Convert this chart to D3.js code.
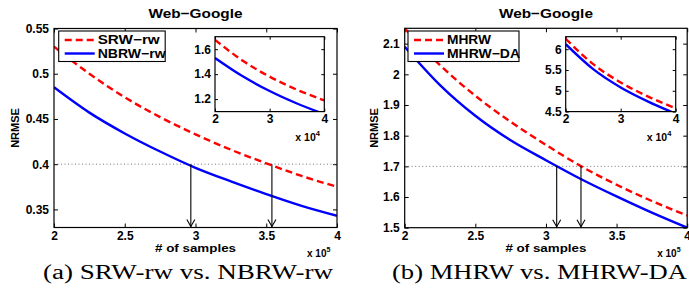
<!DOCTYPE html>
<html>
<head>
<meta charset="utf-8">
<script src="https://cdn.jsdelivr.net/npm/d3@7"></script>
<style>
  body { margin: 0; background: #fff; }
  text { font-family: "Liberation Sans", Arial, sans-serif; font-weight: bold; }
  .caption { font-family: "Liberation Serif", "Times New Roman", serif; font-weight: normal; }
</style>
</head>
<body>
<div id="chart"></div>
<script>
let chart_width = 689;
let chart_height = 291;

// data (x in units of 10^5 samples, inset x in 10^4)
let samples = [2, 2.25, 2.5, 2.75, 3, 3.25, 3.5, 3.75, 4];
let srw_rw = [0.530, 0.500, 0.474, 0.452, 0.433, 0.416, 0.401, 0.387, 0.375];
let nbrw_rw = [0.485, 0.457, 0.434, 0.414, 0.396, 0.381, 0.367, 0.354, 0.343];
let mhrw = [2.15, 2.03, 1.93, 1.845, 1.77, 1.70, 1.64, 1.587, 1.54];
let mhrw_da = [2.09, 1.965, 1.865, 1.785, 1.72, 1.658, 1.602, 1.549, 1.50];

let inset_samples = [2, 2.5, 3, 3.5, 4];
let srw_rw_inset = [1.675, 1.51, 1.38, 1.275, 1.19];
let nbrw_rw_inset = [1.53, 1.385, 1.265, 1.165, 1.08];
let mhrw_inset = [6.25, 5.64, 5.2, 4.86, 4.58];
let mhrw_da_inset = [6.12, 5.52, 5.08, 4.74, 4.45];

// tick labels
let x_ticks = ["2", "2.5", "3", "3.5", "4"];
let inset_x_ticks = ["2", "3", "4"];
let a_y_ticks = ["0.35", "0.4", "0.45", "0.5", "0.55"];
let b_y_ticks = ["1.5", "1.6", "1.7", "1.8", "1.9", "2", "2.1"];
let a_inset_y_ticks = ["1.2", "1.4", "1.6"];
let b_inset_y_ticks = ["4.5", "5", "5.5", "6"];

// the NRMSE level the arrows drop from, and where they hit the x axis
let a_level = 0.4;
let a_arrows = [2.967, 3.54];
let b_level = 1.7;
let b_arrows = [3.076, 3.248];

let svg = d3
  .select("#chart")
  .append("svg")
  .attr("width", chart_width)
  .attr("height", chart_height);

let clip_id = 0;

function draw_axes(g, x, y, xt, yt, tick_len, font_size, pad) {
  let x0 = x.range()[0], x1 = x.range()[1];
  let y0 = y.range()[0], y1 = y.range()[1];

  // white background under the plot
  g.append("rect")
    .attr("x", x0).attr("y", y1)
    .attr("width", x1 - x0).attr("height", y0 - y1)
    .attr("fill", "#fff");

  let xv = xt.map(Number);
  let yv = yt.map(Number);

  let bottom = g.append("g")
    .attr("transform", "translate(0," + y0 + ")")
    .call(d3.axisBottom(x).tickValues(xv).tickSize(-tick_len).tickPadding(pad)
      .tickFormat(function (d, i) { return xt[i]; }));
  let top = g.append("g")
    .attr("transform", "translate(0," + y1 + ")")
    .call(d3.axisTop(x).tickValues(xv).tickSize(-tick_len).tickFormat(""));
  let left = g.append("g")
    .attr("transform", "translate(" + x0 + ",0)")
    .call(d3.axisLeft(y).tickValues(yv).tickSize(-tick_len).tickPadding(pad + 1)
      .tickFormat(function (d, i) { return yt[i]; }));
  let right = g.append("g")
    .attr("transform", "translate(" + x1 + ",0)")
    .call(d3.axisRight(y).tickValues(yv).tickSize(-tick_len).tickFormat(""));

  [bottom, top, left, right].forEach(function (a) {
    a.select(".domain").remove();
    a.selectAll("line").attr("stroke", "#000").attr("stroke-width", 1);
    a.selectAll("text")
      .attr("fill", "#000")
      .style("font-size", font_size + "px")
      .style("font-family", "Liberation Sans, Arial, sans-serif")
      .style("font-weight", "bold");
  });
}

function draw_box(g, x, y) {
  let x0 = x.range()[0], x1 = x.range()[1];
  let y0 = y.range()[0], y1 = y.range()[1];
  g.append("rect")
    .attr("x", x0).attr("y", y1)
    .attr("width", x1 - x0).attr("height", y0 - y1)
    .attr("fill", "none")
    .attr("stroke", "#000")
    .attr("stroke-width", 1.2);
}

function draw_series(g, x, y, xs, vals, dashed) {
  clip_id++;
  let x0 = x.range()[0], x1 = x.range()[1];
  let y0 = y.range()[0], y1 = y.range()[1];
  g.append("clipPath").attr("id", "clip" + clip_id)
    .append("rect")
    .attr("x", x0).attr("y", y1)
    .attr("width", x1 - x0).attr("height", y0 - y1);

  let line = d3.line()
    .x(function (d, i) { return x(xs[i]); })
    .y(function (d) { return y(d); })
    .curve(d3.curveMonotoneX);

  g.append("path")
    .attr("clip-path", "url(#clip" + clip_id + ")")
    .attr("d", line(vals))
    .attr("fill", "none")
    .attr("stroke", dashed ? "#ff0000" : "#0000ff")
    .attr("stroke-width", 2.4)
    .attr("stroke-dasharray", dashed ? "7,4" : null);
}

function draw_panel(p) {
  let g = svg.append("g");

  let x = d3.scaleLinear().domain([2, 4]).range([p.left, p.right]);
  let y = d3.scaleLinear().domain(p.y_domain).range([p.bottom, p.top]);

  draw_axes(g, x, y, x_ticks, p.y_ticks, 4, 12, 4);

  // dotted reference line
  g.append("line")
    .attr("x1", x.range()[0]).attr("x2", x.range()[1])
    .attr("y1", y(p.level)).attr("y2", y(p.level))
    .attr("stroke", "#777")
    .attr("stroke-width", 1)
    .attr("stroke-dasharray", "1,2.5");

  draw_series(g, x, y, samples, p.red, true);
  draw_series(g, x, y, samples, p.blue, false);

  // arrows from the reference line down to the x axis
  p.arrows.forEach(function (a) {
    let ax = x(a);
    let ay = y.range()[0];
    g.append("line")
      .attr("x1", ax).attr("x2", ax)
      .attr("y1", y(p.level)).attr("y2", ay)
      .attr("stroke", "#000").attr("stroke-width", 1.1);
    g.append("path")
      .attr("d", "M" + (ax - 4) + "," + (ay - 8) + "L" + ax + "," + (ay - 1) + "L" + (ax + 4) + "," + (ay - 8))
      .attr("fill", "none").attr("stroke", "#000").attr("stroke-width", 1.1);
  });

  draw_box(g, x, y);

  // legend
  let lg = g.append("g");
  lg.append("rect")
    .attr("x", p.legend_x).attr("y", 31)
    .attr("width", p.legend_w).attr("height", 30.5)
    .attr("fill", "#fff").attr("stroke", "#000").attr("stroke-width", 1.1);
  p.names.forEach(function (name, i) {
    let ly = 40 + i * 13.5;
    lg.append("line")
      .attr("x1", p.legend_x + 6).attr("x2", p.legend_x + 36)
      .attr("y1", ly).attr("y2", ly)
      .attr("stroke", i == 0 ? "#ff0000" : "#0000ff")
      .attr("stroke-width", 2.4)
      .attr("stroke-dasharray", i == 0 ? "7,4" : null);
    lg.append("text")
      .attr("x", p.legend_x + 39).attr("y", ly + 4.3)
      .attr("textLength", p.name_w[i])
      .attr("lengthAdjust", "spacingAndGlyphs")
      .style("font-size", "12.5px")
      .text(name);
  });

  // inset
  let ix = d3.scaleLinear().domain([2, 4]).range([p.inset_left, p.inset_right]);
  let iy = d3.scaleLinear().domain(p.inset_domain).range([111.6, 36.7]);
  draw_axes(g, ix, iy, inset_x_ticks, p.inset_ticks, 3, 12, 3);
  draw_series(g, ix, iy, inset_samples, p.inset_red, true);
  draw_series(g, ix, iy, inset_samples, p.inset_blue, false);
  draw_box(g, ix, iy);

  let ie = g.append("text")
    .attr("x", p.inset_right - 29).attr("y", 140.5)
    .style("font-size", "10.5px");
  ie.append("tspan").text("x 10");
  ie.append("tspan").attr("dy", -5).style("font-size", "7.5px").text("4");

  // titles and labels
  let cx = (p.left + p.right) / 2;
  g.append("text")
    .attr("x", cx).attr("y", 18)
    .attr("text-anchor", "middle")
    .attr("textLength", 94)
    .attr("lengthAdjust", "spacingAndGlyphs")
    .style("font-size", "13.5px")
    .text("Web\u2212Google");

  g.append("text")
    .attr("transform", "translate(" + p.ylabel_x + "," + ((p.top + p.bottom) / 2) + ") rotate(-90)")
    .attr("text-anchor", "middle")
    .style("font-size", "11px")
    .text("NRMSE");

  g.append("text")
    .attr("x", cx).attr("y", 252)
    .attr("text-anchor", "middle")
    .attr("textLength", 81)
    .attr("lengthAdjust", "spacingAndGlyphs")
    .style("font-size", "11px")
    .text("# of samples");

  let me = g.append("text")
    .attr("x", p.right - 30).attr("y", 257)
    .style("font-size", "10px");
  me.append("tspan").text("x 10");
  me.append("tspan").attr("dy", -5).style("font-size", "7px").text("5");

  g.append("text")
    .attr("class", "caption")
    .attr("x", p.caption_x).attr("y", 279)
    .attr("textLength", p.caption_w)
    .attr("lengthAdjust", "spacingAndGlyphs")
    .style("font-size", "20px")
    .text(p.caption);
}

draw_panel({
  left: 54, right: 337, top: 28.5, bottom: 227.5,
  y_domain: [0.33, 0.55], y_ticks: a_y_ticks,
  red: srw_rw, blue: nbrw_rw,
  level: a_level, arrows: a_arrows,
  names: ["SRW\u2212rw", "NBRW\u2212rw"], name_w: [62, 68],
  legend_x: 58.7, legend_w: 106.5,
  inset_left: 215, inset_right: 324.3, inset_domain: [1.1, 1.7],
  inset_ticks: a_inset_y_ticks, inset_red: srw_rw_inset, inset_blue: nbrw_rw_inset,
  ylabel_x: 19,
  caption: "(a) SRW-rw vs. NBRW-rw", caption_x: 43, caption_w: 290
});

draw_panel({
  left: 404.7, right: 687.2, top: 28.3, bottom: 227.7,
  y_domain: [1.5, 2.15], y_ticks: b_y_ticks,
  red: mhrw, blue: mhrw_da,
  level: b_level, arrows: b_arrows,
  names: ["MHRW", "MHRW\u2212DA"], name_w: [44, 73],
  legend_x: 408, legend_w: 111,
  inset_left: 565.7, inset_right: 675.7, inset_domain: [4.5, 6.3],
  inset_ticks: b_inset_y_ticks, inset_red: mhrw_inset, inset_blue: mhrw_da_inset,
  ylabel_x: 378,
  caption: "(b) MHRW vs. MHRW-DA", caption_x: 392, caption_w: 295
});
</script>
</body>
</html>
